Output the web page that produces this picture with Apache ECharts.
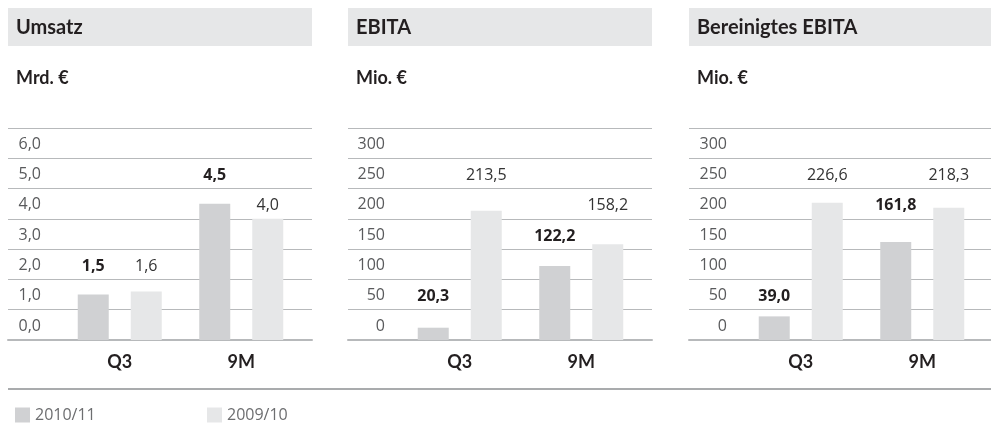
<!DOCTYPE html>
<html>
<head>
<meta charset="utf-8">
<script src="https://cdn.jsdelivr.net/npm/echarts@6/dist/echarts.min.js"></script>
<style>
  html, body { margin: 0; padding: 0; background: #fff; }
  #chart { width: 991px; height: 425px; }
</style>
</head>
<body>
<div id="chart"></div>
<script>
const categories = ["Q3", "9M"];
const yearNames = ["2010/11", "2009/10"];
const panelTitles = ["Umsatz", "EBITA", "Bereinigtes EBITA"];
const panelUnits = ["Mrd. €", "Mio. €", "Mio. €"];
const current = [[1.5, 4.5], [20.3, 122.2], [39.0, 161.8]];
const previous = [[1.6, 4.0], [213.5, 158.2], [226.6, 218.3]];
const axisStep = [1, 50, 50];
const axisMax = [7, 350, 350];
const axisDecimals = [1, 0, 0];

const panelLeft = [8, 348, 689];
const panelWidth = 304;
const labelRight = [33, 37, 38];
const barColors = ["#d0d1d3", "#e6e7e8"];
const gridColor = "#b7b9bb";
const textFont = "Open Sans";
const titleFont = "Lato";

function fmt(v, d) {
  return v.toFixed(d).replace(".", ",");
}
// value labels sit in the row between the gridlines just above the bar
function labelSlot(v, step) {
  return (Math.ceil(v / step) + 0.5) * step;
}

let myChart = echarts.init(document.getElementById("chart"));

let grid = [], xAxis = [], yAxis = [], series = [], title = [], graphic = [];

panelTitles.forEach((name, i) => {
  const left = panelLeft[i];

  graphic.push({
    type: "rect",
    z: 0,
    shape: { x: left, y: 8, width: panelWidth, height: 38 },
    style: { fill: "#e6e7e8" }
  });

  title.push({
    text: name,
    subtext: panelUnits[i],
    left: left + 8,
    top: 17,
    padding: 0,
    itemGap: 29,
    textStyle: { fontFamily: titleFont, fontWeight: "bold", fontSize: 20, lineHeight: 22, color: "#231f20" },
    subtextStyle: { fontFamily: titleFont, fontWeight: "bold", fontSize: 18, lineHeight: 20, color: "#231f20" }
  });

  // frame grid: full panel width, carries gridlines and tick labels
  grid.push({ left: left, width: panelWidth, top: 128, bottom: 85 });
  // bar grid
  grid.push({ left: left + 51, width: 243, top: 128, bottom: 85 });

  xAxis.push({
    type: "category",
    gridIndex: 2 * i,
    data: [""],
    axisTick: { show: false },
    axisLabel: { show: false },
    axisLine: { lineStyle: { color: gridColor, width: 2 } }
  });
  xAxis.push({
    type: "category",
    gridIndex: 2 * i + 1,
    data: categories,
    axisLine: { show: false },
    axisTick: { show: false },
    axisLabel: { margin: 13, fontFamily: titleFont, fontWeight: "bold", fontSize: 18, color: "#231f20" }
  });
  xAxis.push({
    type: "category",
    gridIndex: 2 * i + 1,
    data: categories,
    show: false
  });

  yAxis.push({
    type: "value",
    gridIndex: 2 * i,
    min: 0,
    max: axisMax[i],
    interval: axisStep[i],
    axisLine: { show: false },
    axisTick: { show: false },
    splitLine: { lineStyle: { color: gridColor, width: 1 } },
    axisLabel: {
      inside: true,
      align: "right",
      verticalAlign: "bottom",
      lineHeight: 28,
      margin: labelRight[i],
      fontFamily: textFont,
      fontSize: 16,
      color: "#595a5c",
      formatter: v => (v >= axisMax[i] ? "" : fmt(v, axisDecimals[i]))
    }
  });
  yAxis.push({
    type: "value",
    gridIndex: 2 * i + 1,
    min: 0,
    max: axisMax[i],
    interval: axisStep[i],
    show: false
  });

  [current[i], previous[i]].forEach((values, k) => {
    series.push({
      name: yearNames[k],
      type: "bar",
      xAxisIndex: 3 * i + 1,
      yAxisIndex: 2 * i + 1,
      barWidth: 31,
      barGap: "71%",
      silent: true,
      itemStyle: { color: barColors[k] },
      data: values
    });
    series.push({
      name: "label-" + yearNames[k],
      type: "bar",
      xAxisIndex: 3 * i + 2,
      yAxisIndex: 2 * i + 1,
      barWidth: 31,
      barGap: "71%",
      silent: true,
      itemStyle: { color: "rgba(0,0,0,0)" },
      label: {
        show: true,
        position: "insideTop",
        distance: 0,
        offset: [0, 2],
        verticalAlign: "middle",
        fontFamily: textFont,
        fontSize: 16,
        fontWeight: k === 0 ? "bold" : "normal",
        color: k === 0 ? "#231f20" : "#333",
        formatter: p => fmt(values[p.dataIndex], 1)
      },
      data: values.map(v => labelSlot(v, axisStep[i]))
    });
  });
});

graphic.push({
  type: "line",
  z: 0,
  shape: { x1: 8, y1: 389, x2: 991, y2: 389 },
  style: { stroke: "#a9abad", lineWidth: 2 }
});

const legendBase = {
  top: 407,
  padding: 0,
  icon: "rect",
  itemWidth: 15,
  itemHeight: 15,
  itemGap: 5,
  selectedMode: false,
  textStyle: { fontFamily: textFont, fontSize: 16, color: "#6d6e70", padding: [2, 0, 0, 0] }
};

let option = {
  animation: false,
  backgroundColor: "#fff",
  title: title,
  graphic: graphic,
  grid: grid,
  xAxis: xAxis,
  yAxis: yAxis,
  legend: [
    Object.assign({ left: 15, data: [yearNames[0]] }, legendBase),
    Object.assign({ left: 207, data: [yearNames[1]] }, legendBase)
  ],
  series: series
};

option && myChart.setOption(option);
</script>
</body>
</html>
